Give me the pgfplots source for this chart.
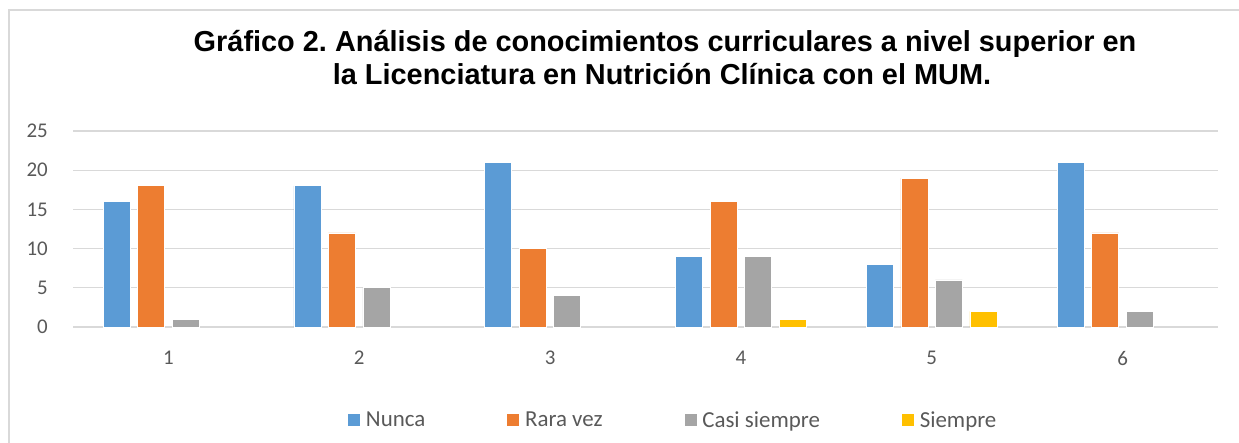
\documentclass[border=0pt]{standalone}
\usepackage{pgfplots}
\pgfplotsset{compat=1.18}
\usepackage{fontspec}
\setmainfont{Carlito}
\newfontfamily\titlefont{Liberation Sans}
\definecolor{cNunca}{HTML}{5B9BD5}
\definecolor{cRara}{HTML}{ED7D31}
\definecolor{cCasi}{HTML}{A5A5A5}
\definecolor{cSiem}{HTML}{FFC000}
\definecolor{gridc}{HTML}{D9D9D9}
\definecolor{txt}{HTML}{595959}
\begin{document}
\frenchspacing
\begin{tikzpicture}
\useasboundingbox (0,0) rectangle (1239bp,443bp);
\draw[color=gridc, line width=1.5bp] (9bp,-5bp) -- (9bp,433bp) -- (1250bp,433bp);
\node[anchor=base, inner sep=0pt, font=\titlefont\bfseries\fontsize{29}{33}\selectfont] at (665bp,391bp) {Gráfico 2. Análisis de conocimientos curriculares a nivel superior en};
\node[anchor=base, inner sep=0pt, font=\titlefont\bfseries\fontsize{29}{33}\selectfont] at (662bp,358bp) {la Licenciatura en Nutrición Clínica con el MUM.};
\begin{axis}[
  at={(73bp,116bp)}, anchor=south west,
  scale only axis, width=1145bp, height=196bp,
  xmin=0.5, xmax=6.5, ymin=0, ymax=25,
  ybar=7.5bp, bar width=27bp,
  axis line style={draw=none},
  major tick length=0pt,
  xtick={1,2,3,4,5,6},
  ytick={0,5,10,15,20,25},
  ymajorgrids, grid style={color=gridc, line width=1.2bp},
  /pgf/number format/assume math mode=true,
  ticklabel style={color=txt, font=\fontsize{21}{21}\selectfont, inner sep=0pt},
  yticklabel style={anchor=east, xshift=-25bp},
  xticklabel style={anchor=north, yshift=-24bp},
  legend columns=4,
  legend style={at={(0.2393,-0.4745)}, anchor=west, draw=none, fill=none, inner sep=0pt,
    font=\fontsize{23}{23}\selectfont, text=txt,
    /tikz/every even column/.append style={column sep=79bp}},
  legend image code/.code={\fill[#1] (0bp,-6.5bp) rectangle (13bp,6.5bp); \path (16bp,0bp);},
  every axis plot/.append style={draw=white, line width=0.8bp},
  clip=false,
]
\addplot[fill=cNunca] coordinates {(1,16) (2,18) (3,21) (4,9) (5,8) (6,21)};
\addplot[fill=cRara] coordinates {(1,18) (2,12) (3,10) (4,16) (5,19) (6,12)};
\addplot[fill=cCasi] coordinates {(1,1) (2,5) (3,4) (4,9) (5,6) (6,2)};
\addplot[fill=cSiem] coordinates {(4,1) (5,2)};
\legend{Nunca,Rara vez,Casi siempre,Siempre}
\end{axis}
\end{tikzpicture}
\end{document}
